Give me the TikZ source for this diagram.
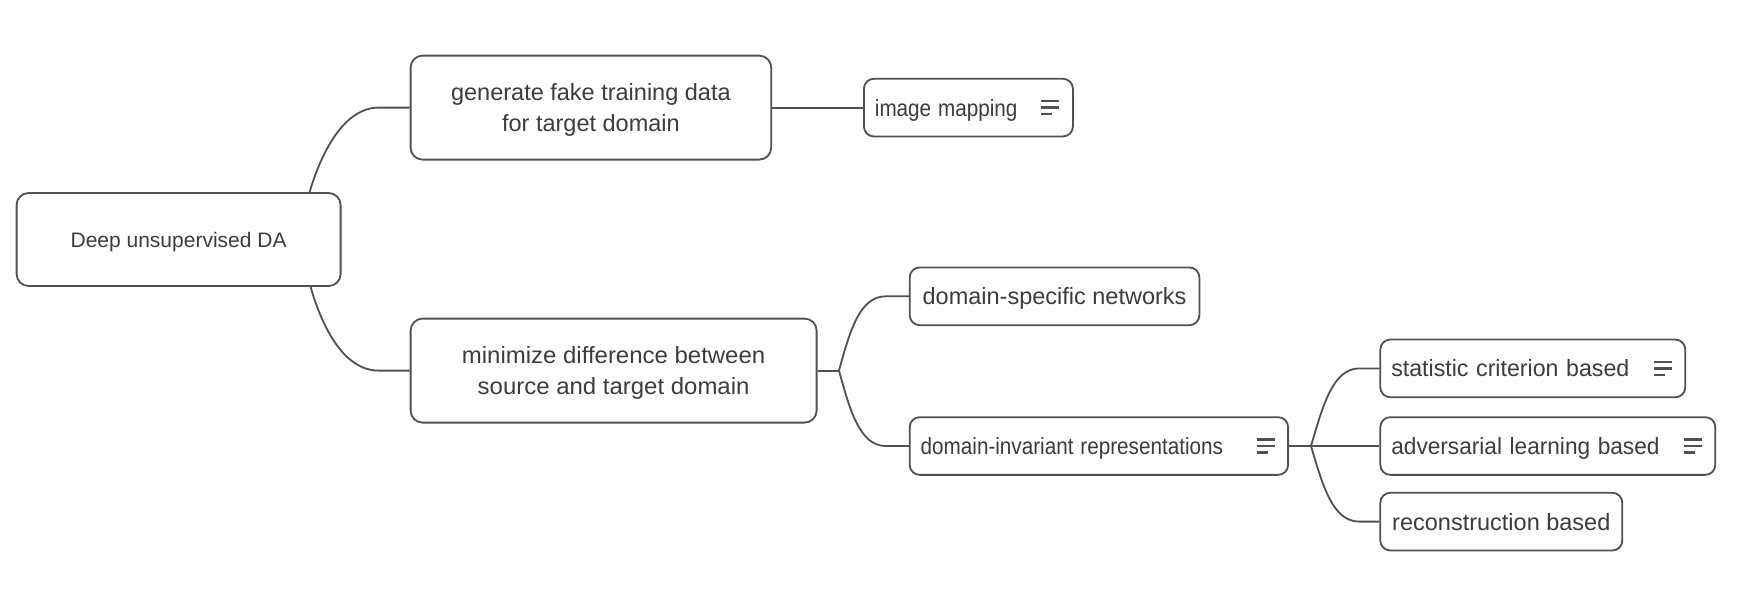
\documentclass[tikz,border=0pt]{standalone}
\usepackage{graphicx}
\usepackage{fontspec}
\setmainfont{Liberation Sans}
\definecolor{edgec}{HTML}{505050}
\definecolor{textc}{HTML}{3C3C3C}
\tikzset{
  box/.style={draw=edgec, line width=1.8pt, rounded corners=10pt, inner sep=0pt,
    text=textc, font=\fontsize{23.5}{31}\selectfont, minimum height=57.7pt, fill=white,
    text depth=0pt},
  leftbox/.style={box, anchor=west, align=left, inner xsep=11pt},
  midbox/.style={box, anchor=west, align=center},
  conn/.style={draw=edgec, line width=1.8pt},
  noteline/.style={draw=edgec, line width=2.4pt}
}
\newcommand\myNoteIcon[1]{%
  \draw[noteline] ([xshift=-32.5pt,yshift=6.5pt]#1.east) -- ++(18pt,0pt);
  \draw[noteline] ([xshift=-32.5pt]#1.east) -- ++(18pt,0pt);
  \draw[noteline] ([xshift=-32.5pt,yshift=-6.5pt]#1.east) -- ++(11pt,0pt);
}
\begin{document}
\begin{tikzpicture}[x=1pt,y=-1pt]
\useasboundingbox[fill=white] (0,0) rectangle (1740,590);

% nodes
\node[box, minimum width=324pt, minimum height=93pt, rounded corners=12pt, font=\fontsize{21}{26}\selectfont] (root) at (178.6,239.5) {Deep unsupervised DA};
\node[box, minimum width=360.6pt, minimum height=104pt, rounded corners=12pt, align=center] (gen) at (590.9,107.6) {generate fake training data\\for target domain};
\node[box, minimum width=406pt, minimum height=104pt, rounded corners=12pt, align=center] (min) at (613.6,370.6) {\scalebox{1.02}[1]{minimize difference between}\\\scalebox{1.02}[1]{source and target domain}};

\node[leftbox, text width=187pt] (im) at (863,107.6) {\scalebox{0.88}[1]{image mapping}};
\node[midbox, minimum width=289.7pt] (ds) at (908.8,296.3) {domain-specific networks};
\node[leftbox, text width=356.4pt] (di) at (908.8,446) {\scalebox{0.88}[1]{domain-invariant representations}};
\node[leftbox, text width=283pt] (st) at (1379.4,368.4) {\scalebox{0.985}[1]{statistic criterion based}};
\node[leftbox, text width=313pt] (ad) at (1379.4,446) {\scalebox{0.964}[1]{adversarial learning based}};
\node[midbox, minimum width=242pt] (re) at (1379.4,521.6) {reconstruction based};

\myNoteIcon{im}
\myNoteIcon{di}
\myNoteIcon{st}
\myNoteIcon{ad}

% branch points
\coordinate (b1) at (839,370.6);
\coordinate (b2) at (1311,446);

% connectors
\draw[conn] ([xshift=131pt]root.north) .. controls (322,150) and (345,107.6) .. ([xshift=-31pt]gen.west) -- (gen.west);
\draw[conn] ([xshift=132pt]root.south) .. controls (323,330) and (345,370.6) .. ([xshift=-31pt]min.west) -- (min.west);
\draw[conn] (gen.east) -- (im.west);

\draw[conn] (min.east) -- (b1);
\draw[conn] (b1) .. controls (850,330) and (860,296.3) .. ([xshift=-23pt]ds.west) -- (ds.west);
\draw[conn] (b1) .. controls (850,411) and (860,446) .. ([xshift=-23pt]di.west) -- (di.west);

\draw[conn] (di.east) -- (b2);
\draw[conn] (b2) .. controls (1323,405) and (1333,368.4) .. ([xshift=-20pt]st.west) -- (st.west);
\draw[conn] (b2) -- (ad.west);
\draw[conn] (b2) .. controls (1323,487) and (1333,521.6) .. ([xshift=-20pt]re.west) -- (re.west);
\end{tikzpicture}
\end{document}
